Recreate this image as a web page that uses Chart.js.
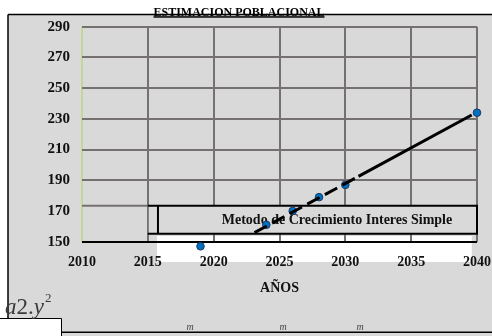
<!DOCTYPE html>
<html>
<head>
<meta charset="utf-8">
<script src="https://cdn.jsdelivr.net/npm/chart.js@4/dist/chart.umd.min.js"></script>
<style>
  html, body { margin: 0; padding: 0; background: #fff; }
  #wrap { width: 492px; height: 336px; position: relative; }
</style>
</head>
<body>
<div id="wrap"><canvas id="c" width="492" height="336"></canvas></div>
<script>
// Censos / proyección de población (años y habitantes en miles)
const years = [2019, 2024, 2026, 2028, 2030, 2040];
const population = [147, 161, 170, 179, 187, 234];

// Recta de ajuste (método de interés simple)
const trendYears = [2023.1, 2031, 2039.6];
const trendValues = [155.9, 192.5, 232.5];

// Marcas de los ejes
const yearTicks = [2010, 2015, 2020, 2025, 2030, 2035, 2040];
const popTicks = [150, 170, 190, 210, 230, 250, 270, 290];

// Textos
const chartTitle = 'ESTIMACION POBLACIONAL';
const axisTitle = 'AÑOS';
const methodLabel = 'Metodo de Crecimiento Interes Simple';
const unitMarks = ['m', 'm', 'm'];

const SERIF = '"Liberation Serif", "Times New Roman", serif';
const GRID = '#767171';
const PANEL = '#d9d9d9';

// Recuadro de la leyenda del método (en unidades de los ejes)
const methodBox = { fromYear: 2015, innerYear: 2015.77, toYear: 2040, top: 173.4, bottom: 155.2 };
// Franja blanca bajo el eje de años
const whiteBand = { fromYear: 2015.7, toYear: 2039.6, top: 153.7, bottom: 136.8 };

const sheetDecor = {
  id: 'sheetDecor',
  beforeDraw(chart) {
    const ctx = chart.ctx;
    const { x, y } = chart.scales;
    ctx.save();
    ctx.fillStyle = '#ffffff';
    ctx.fillRect(0, 0, chart.width, chart.height);
    // panel gris de la hoja
    ctx.fillStyle = PANEL;
    ctx.fillRect(8, 14, chart.width - 8, chart.height - 14);
    // franja blanca
    ctx.fillStyle = '#ffffff';
    const bx0 = x.getPixelForValue(whiteBand.fromYear);
    const bx1 = x.getPixelForValue(whiteBand.toYear);
    const by0 = y.getPixelForValue(whiteBand.top);
    const by1 = y.getPixelForValue(whiteBand.bottom);
    ctx.fillRect(bx0, by0, bx1 - bx0, by1 - by0);
    // celda blanca inferior izquierda
    ctx.fillRect(0, 318, 61, chart.height - 318);
    // bordes
    ctx.strokeStyle = '#000';
    ctx.lineWidth = 1.5;
    ctx.beginPath();
    ctx.moveTo(8, 14.5); ctx.lineTo(chart.width, 14.5);
    ctx.moveTo(8, 14.5); ctx.lineTo(8, 318);
    ctx.moveTo(61, 332.3); ctx.lineTo(chart.width, 332.3);
    ctx.stroke();
    ctx.lineWidth = 1;
    ctx.beginPath();
    ctx.moveTo(0, 318.5); ctx.lineTo(61.5, 318.5); ctx.lineTo(61.5, chart.height);
    ctx.stroke();
    ctx.restore();
  },
  beforeDatasetsDraw(chart) {
    const ctx = chart.ctx;
    const { x, y } = chart.scales;
    const x0 = x.getPixelForValue(methodBox.fromYear);
    const xi = x.getPixelForValue(methodBox.innerYear);
    const x1 = x.getPixelForValue(methodBox.toYear);
    const yt = y.getPixelForValue(methodBox.top);
    const yb = y.getPixelForValue(methodBox.bottom);
    ctx.save();
    ctx.fillStyle = PANEL;
    ctx.fillRect(x0 + 1, yt, x1 - x0 - 1, yb - yt);
    // prolongación gris del borde superior
    ctx.strokeStyle = GRID;
    ctx.lineWidth = 2;
    ctx.beginPath();
    ctx.moveTo(chart.chartArea.left, yt); ctx.lineTo(x0, yt);
    ctx.stroke();
    ctx.strokeStyle = '#000';
    ctx.lineWidth = 2;
    ctx.beginPath();
    ctx.moveTo(x0, yt); ctx.lineTo(x1, yt); ctx.lineTo(x1, yb); ctx.lineTo(x0, yb);
    ctx.moveTo(xi, yt); ctx.lineTo(xi, yb);
    ctx.stroke();
    ctx.fillStyle = '#111';
    ctx.font = 'bold 14px ' + SERIF;
    ctx.textAlign = 'center';
    ctx.textBaseline = 'middle';
    ctx.fillText(methodLabel, 337, (yt + yb) / 2 + 1);
    ctx.restore();
  },
  afterDraw(chart) {
    const ctx = chart.ctx;
    const area = chart.chartArea;
    ctx.save();
    // título subrayado
    ctx.fillStyle = '#000';
    ctx.font = 'bold 12px ' + SERIF;
    ctx.textAlign = 'center';
    ctx.textBaseline = 'alphabetic';
    ctx.fillText(chartTitle, 239, 15.5);
    const tw = ctx.measureText(chartTitle).width;
    ctx.fillRect(239 - tw / 2, 16.2, tw, 1.5);
    // título del eje de años
    ctx.font = 'bold 14px ' + SERIF;
    ctx.textBaseline = 'middle';
    ctx.fillStyle = '#111';
    ctx.fillText(axisTitle, (area.left + area.right) / 2, 288);
    // fórmula a2.y²
    ctx.fillStyle = '#3a3a3a';
    ctx.textAlign = 'left';
    ctx.textBaseline = 'alphabetic';
    let px = 5;
    ctx.font = 'italic 23px ' + SERIF;
    ctx.fillText('a', px, 314); px += ctx.measureText('a').width;
    ctx.font = '23px ' + SERIF;
    ctx.fillText('2.', px, 314); px += ctx.measureText('2.').width;
    ctx.font = 'italic 23px ' + SERIF;
    ctx.fillText('y', px, 314); px += ctx.measureText('y').width;
    ctx.font = '13px ' + SERIF;
    ctx.fillText('2', px + 1, 302);
    // unidades
    ctx.fillStyle = '#444';
    ctx.font = 'italic 10px ' + SERIF;
    ctx.textAlign = 'center';
    [190, 283, 360].forEach((mx, i) => ctx.fillText(unitMarks[i], mx, 330));
    ctx.restore();
  }
};

new Chart(document.getElementById('c'), {
  type: 'scatter',
  data: {
    datasets: [
      {
        label: 'Interés simple',
        data: trendYears.map((yr, i) => ({ x: yr, y: trendValues[i] })),
        showLine: true,
        borderColor: '#000',
        borderWidth: 3,
        pointRadius: 0,
        clip: false,
        segment: {
          borderDash: c => (c.p0DataIndex === 0 ? [14, 6] : undefined)
        }
      },
      {
        label: 'Población',
        data: years.map((yr, i) => ({ x: yr, y: population[i] })),
        backgroundColor: '#0070c0',
        borderColor: '#1f3864',
        borderWidth: 1,
        pointRadius: 3.8,
        clip: false
      }
    ]
  },
  options: {
    responsive: false,
    animation: false,
    devicePixelRatio: 1,
    layout: { padding: { top: 26.7, right: 15, bottom: 0, left: 0 } },
    plugins: { legend: { display: false }, tooltip: { enabled: false }, title: { display: false } },
    scales: {
      x: {
        type: 'linear',
        min: 2010,
        max: 2040,
        afterBuildTicks: s => { s.ticks = yearTicks.map(v => ({ value: v })); },
        afterFit: s => { s.height = 94.3; },
        border: { display: false },
        grid: {
          drawTicks: true,
          tickLength: 12,
          tickColor: 'rgba(0,0,0,0)',
          lineWidth: 2,
          color: c => (c.tick && c.tick.value === 2010 ? '#c4d79b' : GRID)
        },
        ticks: {
          padding: 0,
          maxRotation: 0,
          autoSkip: false,
          color: '#111',
          font: { family: SERIF, size: 14, weight: 'bold' },
          callback: v => String(v)
        }
      },
      y: {
        min: 150,
        max: 290,
        afterBuildTicks: s => { s.ticks = popTicks.map(v => ({ value: v })); },
        afterFit: s => { s.width = 82; },
        border: { display: false },
        grid: {
          drawTicks: false,
          lineWidth: 2,
          color: c => {
            if (!c.tick) return GRID;
            if (c.tick.value === 150) return '#000';
            if (c.tick.value === 170) return 'rgba(0,0,0,0)';
            return GRID;
          }
        },
        ticks: {
          padding: 12,
          color: '#111',
          font: { family: SERIF, size: 15, weight: 'bold' },
          callback: v => String(v)
        }
      }
    }
  },
  plugins: [sheetDecor]
});
</script>
</body>
</html>
